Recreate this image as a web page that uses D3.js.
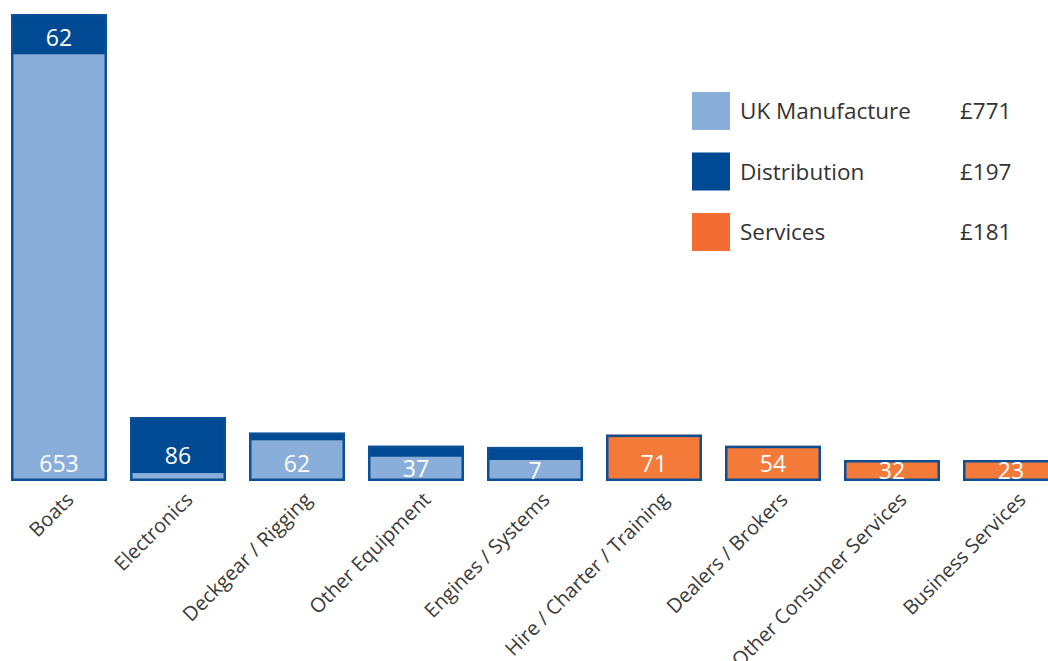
<!DOCTYPE html>
<html>
<head>
<meta charset="utf-8">
<script src="https://cdn.jsdelivr.net/npm/d3@7"></script>
<style>
  body { margin: 0; background: #fff; }
  svg { display: block; font-family: "Open Sans", sans-serif; }
</style>
</head>
<body>
<svg id="chart"></svg>
<script>
// Chart data
const categories = ['Boats', 'Electronics', 'Deckgear / Rigging', 'Other Equipment', 'Engines / Systems',
  'Hire / Charter / Training', 'Dealers / Brokers', 'Other Consumer Services', 'Business Services'];
const manufacture  = [653, 12, 62, 37, 7, 0, 0, 0, 0];
const distribution = [62, 86, 12, 17, 20, 0, 0, 0, 0];
const services     = [0, 0, 0, 0, 0, 71, 54, 32, 23];
// which segments carry a value label
const labelled = [['m', 'd'], ['d'], ['m'], ['m'], ['m'], ['s'], ['s'], ['s'], ['s']];

const legendNames  = ['UK Manufacture', 'Distribution', 'Services'];
const legendTotals = ['£771', '£197', '£181'];

const width = 1048;
const height = 661;
const base = 481;

const colors = { m: '#8aaeda', d: '#004a93', s: '#f47a3a' };
const legendColors = ['#8aaeda', '#004a93', '#f36d33'];

let svg = d3.select('#chart')
    .attr('width', width)
    .attr('height', height);

// Band scale for the bars
let x = d3.scaleBand()
    .domain(categories)
    .range([11, 11 + 8 * 119 + 96])
    .paddingInner(23 / 119)
    .paddingOuter(0);

// Height scale
let h = d3.scaleLinear()
    .domain([0, 715])
    .range([0, 467]);

const minLabelH = 21;

// Build stacked segments
let bars = categories.map((c, i) => {
    let vals = { m: manufacture[i], d: distribution[i], s: services[i] };
    let bottom = base;
    let segs = [];
    ['m', 'd', 's'].forEach(k => {
        let v = vals[k];
        if (!v) return;
        let lab = labelled[i].includes(k);
        let sh = h(v);
        if (lab) sh = Math.max(sh, minLabelH);
        segs.push({ key: k, value: v, top: bottom - sh, bottom: bottom, label: lab });
        bottom -= sh;
    });
    return { cat: c, segs: segs, top: bottom };
});

let g = svg.append('g');

let barG = g.selectAll('.bar')
    .data(bars)
    .enter()
    .append('g')
    .attr('class', 'bar');

barG.selectAll('rect.seg')
    .data(d => d.segs.map(s => Object.assign({ cat: d.cat }, s)))
    .enter()
    .append('rect')
    .attr('class', 'seg')
    .attr('x', d => x(d.cat))
    .attr('y', d => d.top)
    .attr('width', x.bandwidth())
    .attr('height', d => d.bottom - d.top)
    .attr('fill', d => colors[d.key]);

// outline round each bar
barG.append('rect')
    .attr('x', d => x(d.cat) + 1.25)
    .attr('y', d => d.top + 1.25)
    .attr('width', x.bandwidth() - 2.5)
    .attr('height', d => base - d.top - 2.5)
    .attr('fill', 'none')
    .attr('stroke', '#0b4f97')
    .attr('stroke-width', 2.5);

// value labels
barG.selectAll('text.val')
    .data(d => d.segs.filter(s => s.label).map(s => Object.assign({ cat: d.cat }, s)))
    .enter()
    .append('text')
    .attr('class', 'val')
    .attr('x', d => x(d.cat) + x.bandwidth() / 2)
    .attr('y', d => Math.max((d.top + d.bottom) / 2, d.bottom - 17))
    .attr('dy', '0.36em')
    .attr('text-anchor', 'middle')
    .attr('fill', '#fff')
    .style('font-size', '23px')
    .text(d => d.value);

// category labels
g.selectAll('text.cat')
    .data(categories)
    .enter()
    .append('text')
    .attr('class', 'cat')
    .attr('transform', d => 'translate(' + (x(d) + x.bandwidth() / 2 + 6) + ',' + 491 + ') rotate(-45)')
    .attr('text-anchor', 'end')
    .attr('dy', '0.7em')
    .attr('fill', '#3a3a3a')
    .style('font-size', '20px')
    .text(d => d);

// legend
let legend = svg.append('g')
    .selectAll('g')
    .data(legendNames)
    .enter()
    .append('g')
    .attr('transform', (d, i) => 'translate(692,' + (92 + i * 60.5) + ')');

legend.append('rect')
    .attr('width', 38)
    .attr('height', 38)
    .attr('fill', (d, i) => legendColors[i]);

legend.append('text')
    .attr('x', 48)
    .attr('y', 19)
    .attr('dy', '0.36em')
    .attr('fill', '#333')
    .style('font-size', '22.5px')
    .text(d => d);

legend.append('text')
    .attr('x', 268)
    .attr('y', 19)
    .attr('dy', '0.36em')
    .attr('fill', '#333')
    .style('font-size', '22.5px')
    .text((d, i) => legendTotals[i]);
</script>
</body>
</html>
